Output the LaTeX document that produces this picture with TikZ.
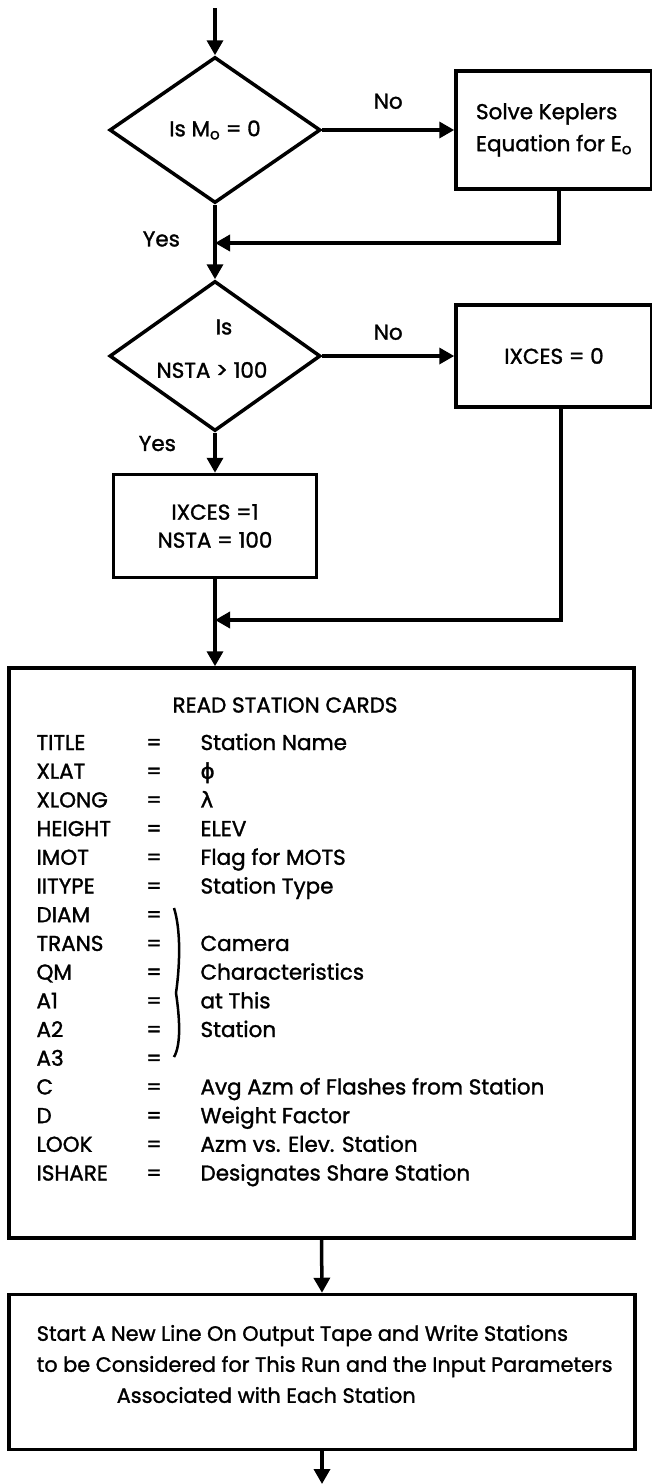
\documentclass[tikz,border=0pt]{standalone}
\usepackage{fontspec}
\setmainfont{Poppins}[FakeBold=1.4]
\newfontfamily\grk{DejaVu Sans}[FakeBold=1.4]
\usepackage{tikz}
\usetikzlibrary{shapes.geometric,arrows.meta,positioning,calc}

\begin{document}
\begin{tikzpicture}[x=1pt,y=-1pt,
  font=\fontsize{21.5}{26}\selectfont,
  decide/.style={diamond,draw,line width=3.5pt,inner sep=0pt,minimum width=211pt,minimum height=146pt,align=center},
  proc/.style={rectangle,draw,line width=3.5pt,inner sep=0pt,align=center},
  arr/.style={-{Triangle[length=15pt,width=16pt]},line width=3.5pt}
]
\useasboundingbox (0,0) rectangle (651,1484);
\coordinate (in) at (215,8);
\node[decide] (d1) at (215,130) {Is M\textsubscript{o} = 0};
\node[proc,minimum width=196pt,minimum height=118pt,align=left,font=\fontsize{21.5}{32}\selectfont,right=132pt of d1] (kep) {Solve Keplers\\Equation for E\textsubscript{o}};
\coordinate (j1) at (215,243);
\node[decide,minimum height=150pt] (d2) at (215,356) {};
\node (d2a) at ([xshift=9pt,yshift=29pt]d2.center) {Is};
\node (d2b) at ([xshift=-3pt,yshift=-14pt]d2.center) {NSTA > 100};
\node[proc,minimum width=196pt,minimum height=102pt,right=132pt of d2] (ixz) {IXCES = 0};
\node[proc,minimum width=203pt,minimum height=103pt,font=\fontsize{21.5}{28}\selectfont] (b3) at (215,526) {IXCES =1\\NSTA = 100};
\coordinate (j2) at (215,620);
% station card list
\node[proc,minimum width=625pt,minimum height=570pt] (read) at (321.5,953) {};
\node (rtitle) at (285,705) {READ STATION CARDS};
\foreach \nm/\val [count=\i from 0] in {TITLE/Station Name,XLAT/{\grk ϕ},XLONG/{\grk λ},HEIGHT/ELEV,IMOT/Flag for MOTS,IITYPE/Station Type,DIAM/{},TRANS/Camera,QM/Characteristics,A1/at This,A2/Station,A3/{},C/Avg Azm of Flashes from Station,D/Weight Factor,LOOK/Azm vs. Elev. Station,ISHARE/Designates Share Station}{
  \node[anchor=base west] (k\i) at (33,750+28.7*\i) {\nm};
  \node[anchor=base] (q\i) at (154,750+28.7*\i) {=};
  \node[anchor=base west] (v\i) at (197,750+28.7*\i) {\val};
}
\draw[line width=2.5pt] (174,908) .. controls (181,930) and (180,965) .. (176,993) .. controls (180,1020) and (181,1045) .. (174,1057);
\node[proc,minimum width=626pt,minimum height=155pt] (out) at (322,1372) {};
\node[anchor=west,align=left,font=\fontsize{20.8}{31}\selectfont] (outtxt) at ([xshift=26pt,yshift=8pt]out.west) {Start A New Line On Output Tape and Write Stations\\to be Considered for This Run and the Input Parameters\\\hspace*{80pt}Associated with Each Station};
\coordinate (out2) at (322,1484);
% connectors
\draw[arr] (in) -- (d1.north);
\draw[arr] (d1.east) -- (kep.west) node[midway,above=16pt] {No};
\draw[arr] ([xshift=5pt]kep.south) |- (j1);
\draw[arr] (d1.south) -- (d2.north) node[pos=0.46,left=30pt] {Yes};
\draw[arr] (d2.east) -- (ixz.west) node[midway,above=11pt] {No};
\draw[arr] (d2.south) -- (b3.north) node[pos=0.27,left=34pt] {Yes};
\draw[arr] ([xshift=7pt]ixz.south) |- (j2);
\draw[arr] (b3.south) -- (b3.south |- read.north);
\draw[arr] (read.south) -- (out.north);
\draw[arr] (out.south) -- (out2);
\end{tikzpicture}
\end{document}
